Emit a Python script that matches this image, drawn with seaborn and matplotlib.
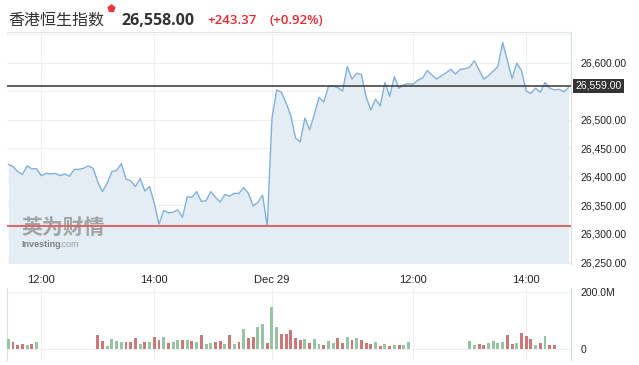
import numpy as np
import pandas as pd
import matplotlib
matplotlib.use("Agg")
import matplotlib.pyplot as plt
import matplotlib.transforms as mtransforms
import seaborn as sns

# ---------------- data ----------------
title_name = "香港恒生指数"
last_price = "26,558.00"
change_abs = "+243.37"
change_pct = "(+0.92%)"
prev_close = 26314.63
current_level = 26559.0
current_label = "26,559.00"

price = [26422, 26418, 26409, 26404, 26419, 26414, 26414, 26402, 26406, 26405,
         26406, 26402, 26405, 26401, 26413, 26413, 26415, 26419, 26415, 26391,
         26374, 26389, 26409, 26411, 26423, 26396, 26393, 26383, 26397, 26375,
         26383, 26354, 26317, 26341, 26337, 26338, 26342, 26329, 26365, 26364,
         26374, 26357, 26358, 26374, 26364, 26356, 26369, 26366, 26371, 26371,
         26381, 26371, 26349, 26355, 26368, 26314, 26502, 26552, 26548, 26529,
         26507, 26468, 26461, 26503, 26482, 26509, 26539, 26531, 26558, 26559,
         26556, 26550, 26593, 26571, 26581, 26579, 26540, 26517, 26536, 26524,
         26565, 26541, 26575, 26555, 26561, 26563, 26562, 26569, 26573, 26586,
         26578, 26571, 26577, 26582, 26588, 26580, 26588, 26589, 26592, 26603,
         26587, 26571, 26577, 26585, 26593, 26635, 26604, 26572, 26599, 26586,
         26550, 26546, 26555, 26548, 26565, 26555, 26552, 26553, 26549, 26556]

# volume in millions (None = no trading, lunch break)
volume = [37, 25, 15, 18.5, 15, 18.5, 26.6] + [None] * 12 + \
         [51, 29, 11.6, 37, 30, 26.6, 26.6, 26.6, 39, 19.7,
          26.6, 26.6, 44, 33.6, 44, 22, 26.6, 33.6, 33.6, 33.6,
          30, 26.6, 51, 19.7, 23, 26.6, 30, 19.7, 51, 19.7,
          26.6, 72, 39, 44, 79, 89, 23, 148, 79, 54,
          54, 68, 39, 33.6, 37, 23, 37, 20, 15, 30,
          23, 40.5, 23, 44, 33.6, 40.5, 33.6, 23, 19.7, 26.6,
          11.6, 19.7, 11.6, 15, 15, 15, 26.6] + [None] * 12 + \
         [30, 15, 19.7, 15, 23, 30, 23, 26.6, 51, 19.7,
          23, 58, 47, 37, 15, 23, 47, 15, 15] + [None] * 3

vol_dir = ["up", "down", "down", "down", "up", "down", "up"] + [None] * 12 + \
          ["down", "down", "up", "up", "up", "up", "down", "down", "down", "up",
           "down", "up", "down", "down", "up", "down", "up", "up", "down", "up",
           "down", "up", "down", "up", "up", "down", "down", "up", "down", "up",
           "down", "up", "down", "down", "up", "up", "down", "up", "up", "down",
           "down", "down", "down", "down", "up", "down", "up", "up", "down", "up",
           "up", "down", "down", "up", "down", "up", "down", "down", "down", "up",
           "down", "up", "down", "up", "down", "up", "up"] + [None] * 12 + \
          ["up", "up", "down", "down", "up", "up", "up", "up", "down", "down",
           "up", "down", "down", "down", "up", "down", "up", "down", "down"] + [None] * 3

tick_pos = [7, 31, 56, 86, 110]
tick_labels = ["12:00", "14:00", "Dec 29", "12:00", "14:00"]
y_grid = [26250, 26300, 26350, 26400, 26450, 26500, 26550, 26600]
y_ticks = [26250, 26300, 26350, 26400, 26450, 26500, 26600]

# ---------------- layout ----------------
W, H = 639, 365
fig = plt.figure(figsize=(W / 100, H / 100), dpi=100)
fig.patch.set_facecolor("white")
sns.set_style("white")
plt.rcParams["font.family"] = ["Liberation Sans", "DejaVu Sans"]

def box(x0, y0, x1, y1):
    return [x0 / W, 1 - y1 / H, (x1 - x0) / W, (y1 - y0) / H]

ax = fig.add_axes(box(7, 32, 571, 263.5))
axv = fig.add_axes(box(7, 288, 571, 360))

idx = np.arange(len(price))
dfp = pd.DataFrame({"i": idx, "price": price})

ylo, yhi = 26248.25, 26653.4
xlo, xhi = -0.28, 119.52

grid_c = "#efefef"
for yt in y_grid + [26650]:
    ax.axhline(yt, color=grid_c, lw=0.8, zorder=0)
for xt in tick_pos:
    ax.axvline(xt, color=grid_c, lw=0.8, zorder=0)

ax.fill_between(dfp["i"], dfp["price"], ylo, color="#e5edf4", lw=0, zorder=1)
sns.lineplot(data=dfp, x="i", y="price", ax=ax, color="#7fb0de", lw=1.0, zorder=3)

ax.axhline(prev_close, color="#e06464", lw=1.4, zorder=4)
ax.axhline(current_level, color="#444444", lw=1.2, zorder=4)

ax.set_xlim(xlo, xhi)
ax.set_ylim(ylo, yhi)
ax.set_xlabel("")
ax.set_ylabel("")
ax.set_xticks(tick_pos)
ax.set_xticklabels(tick_labels, fontsize=8, color="#222222")
ax.tick_params(axis="x", length=0, pad=8)
ax.yaxis.tick_right()
ax.set_yticks(y_ticks)
ax.set_yticklabels([f"{v:,.2f}" for v in y_ticks], fontsize=7.5, color="#222222")
ax.tick_params(axis="y", length=0, pad=7)
for s in ["left", "bottom"]:
    ax.spines[s].set_visible(False)
ax.spines["top"].set_color("#e4e4e4")
ax.spines["right"].set_color("#d5dde6")
ax.spines["top"].set_linewidth(0.8)
ax.spines["right"].set_linewidth(0.8)

# current price label
trans = mtransforms.blended_transform_factory(ax.transAxes, ax.transData)
ax.text(1.008, current_level, current_label, transform=trans, fontsize=7.5,
        color="white", va="center", ha="left", zorder=6, clip_on=False,
        bbox=dict(boxstyle="square,pad=0.2", fc="#333333", ec="none"))

# watermark
ax.text(14 / 564, 26330, "英为财情", transform=trans, fontsize=15,
        family=["Noto Sans CJK SC", "DejaVu Sans"], fontweight="bold",
        color="#8a8a8a", alpha=0.75, va="top", ha="left", zorder=2)
ax.text(14 / 564, 26281, "Investing", transform=trans, fontsize=6.5,
        fontweight="bold", color="#666666", alpha=0.8, va="center", ha="left", zorder=2)
ax.text(52 / 564, 26281, ".com", transform=trans, fontsize=6.5,
        color="#888888", alpha=0.8, va="center", ha="left", zorder=2)

# ---------------- volume ----------------
dfv = pd.DataFrame({"i": idx, "vol": volume, "dir": vol_dir}).dropna()
dfv["vol"] = dfv["vol"].astype(float)
for yt in [0, 200]:
    axv.axhline(yt, color=grid_c, lw=0.8, zorder=0)
for xt in tick_pos:
    axv.axvline(xt, color=grid_c, lw=0.8, zorder=0)
sns.barplot(data=dfv, x="i", y="vol", hue="dir",
            palette={"up": "#8fcb9e", "down": "#d86a6c"},
            native_scale=True, dodge=False, width=0.62, linewidth=0,
            legend=False, ax=axv, zorder=3)
axv.set_xlim(xlo, xhi)
axv.set_ylim(-(360 - 349.3) / 0.288, 200 + (291.7 - 288) / 0.288)
axv.set_xlabel("")
axv.set_ylabel("")
axv.set_xticks([])
axv.yaxis.tick_right()
axv.set_yticks([0, 200])
axv.set_yticklabels(["0", "200.0M"], fontsize=7.5, color="#222222")
axv.tick_params(axis="y", length=0, pad=7)
for s in ["top", "bottom"]:
    axv.spines[s].set_visible(False)
axv.spines["left"].set_color("#e0e0e0")
axv.spines["right"].set_color("#c9d8e8")
axv.spines["left"].set_linewidth(0.8)
axv.spines["right"].set_linewidth(0.8)

# ---------------- header ----------------
base = 1 - 25 / H
fig.text(8 / W, base, title_name, fontsize=11.5, color="#333333",
         family=["Noto Sans CJK SC", "DejaVu Sans"], va="baseline", ha="left")
fig.lines.append(plt.Line2D([110.5 / W], [1 - 8 / H], marker=(5, 0, 0), ms=5,
                            color="#e8383d", transform=fig.transFigure))
fig.text(121 / W, base, last_price, fontsize=11.5, color="#333333",
         family=["Open Sans", "DejaVu Sans"], fontweight="bold", va="baseline", ha="left")
fig.text(207 / W, 1 - 24 / H, change_abs, fontsize=9.5, color="#e8282d",
         family=["Open Sans", "DejaVu Sans"], fontweight="semibold", va="baseline", ha="left")
fig.text(270 / W, 1 - 24 / H, change_pct, fontsize=9.5, color="#e8282d",
         family=["Open Sans", "DejaVu Sans"], fontweight="semibold", va="baseline", ha="left")

fig.savefig("out.png", dpi=100, facecolor="white")
